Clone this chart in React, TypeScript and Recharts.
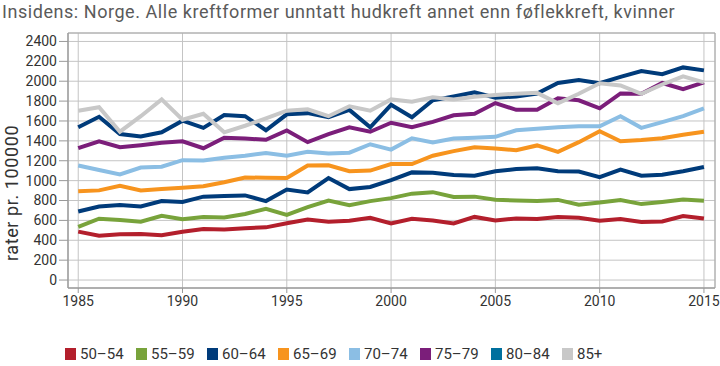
import React from 'react';
import { LineChart, Line, XAxis, YAxis, CartesianGrid, ReferenceArea } from 'recharts';

// Insidens, kvinner, rater pr. 100 000 etter aldersgruppe
const years = [
  1985, 1986, 1987, 1988, 1989, 1990, 1991, 1992, 1993, 1994, 1995, 1996, 1997, 1998, 1999, 2000,
  2001, 2002, 2003, 2004, 2005, 2006, 2007, 2008, 2009, 2010, 2011, 2012, 2013, 2014, 2015,
];

const age50_54 = [487, 446, 460, 464, 451, 485, 514, 509, 521, 530, 572, 608, 587, 596, 626, 569, 617, 599, 569, 635, 600, 620, 614, 635, 626, 596, 614, 584, 590, 644, 620];
const age55_59 = [536, 617, 605, 587, 647, 611, 635, 629, 665, 716, 655, 734, 800, 752, 794, 824, 869, 884, 836, 839, 808, 800, 794, 806, 758, 779, 806, 764, 785, 809, 797];
const age60_64 = [689, 740, 755, 740, 794, 785, 839, 845, 851, 794, 910, 881, 1026, 915, 936, 1005, 1083, 1080, 1056, 1050, 1095, 1116, 1125, 1095, 1092, 1035, 1110, 1050, 1059, 1095, 1137];
const age65_69 = [893, 902, 947, 902, 915, 929, 944, 983, 1032, 1028, 1026, 1152, 1155, 1095, 1101, 1167, 1167, 1251, 1297, 1336, 1323, 1306, 1354, 1290, 1387, 1498, 1396, 1408, 1426, 1462, 1492];
const age70_74 = [1152, 1107, 1062, 1131, 1140, 1206, 1203, 1230, 1251, 1278, 1250, 1290, 1272, 1281, 1366, 1312, 1426, 1384, 1423, 1432, 1441, 1507, 1522, 1537, 1546, 1546, 1648, 1531, 1588, 1648, 1727];
const age75_79 = [1326, 1396, 1336, 1357, 1381, 1396, 1326, 1432, 1423, 1411, 1504, 1387, 1468, 1537, 1492, 1582, 1537, 1591, 1657, 1673, 1780, 1712, 1712, 1829, 1808, 1727, 1877, 1874, 1982, 1919, 1989];
const age80_84 = [1537, 1642, 1468, 1444, 1486, 1603, 1531, 1660, 1648, 1507, 1667, 1679, 1637, 1712, 1537, 1763, 1637, 1808, 1847, 1889, 1835, 1847, 1877, 1982, 2012, 1980, 2043, 2102, 2070, 2139, 2109];
const age85plus = [1703, 1739, 1492, 1648, 1817, 1612, 1673, 1486, 1552, 1627, 1703, 1718, 1648, 1748, 1703, 1817, 1793, 1838, 1817, 1844, 1862, 1874, 1883, 1778, 1874, 1980, 1958, 1874, 1967, 2048, 1989];

const xTicks = [1985, 1990, 1995, 2000, 2005, 2010, 2015];
const yTicks = [0, 200, 400, 600, 800, 1000, 1200, 1400, 1600, 1800, 2000, 2200, 2400];

const series = [
  { key: 'a50', name: '50–54', values: age50_54, color: '#b31f2c', legend: '#b31f2c' },
  { key: 'a55', name: '55–59', values: age55_59, color: '#78a33b', legend: '#78a33b' },
  { key: 'a60', name: '60–64', values: age60_64, color: '#003b7a', legend: '#003b7a' },
  { key: 'a65', name: '65–69', values: age65_69, color: '#f7941e', legend: '#f7941e' },
  { key: 'a70', name: '70–74', values: age70_74, color: '#8bbee4', legend: '#8bbee4' },
  { key: 'a75', name: '75–79', values: age75_79, color: '#7b1e7a', legend: '#7b1e7a' },
  // linja er tegnet mørkeblå i originalen, men legenden er petrol
  { key: 'a80', name: '80–84', values: age80_84, color: '#003b7a', legend: '#00709e' },
  { key: 'a85', name: '85+', values: age85plus, color: '#c8c8c8', legend: '#c8c8c8' },
];

const chartData = years.map((year, i) => {
  const row: Record<string, number> = { year };
  series.forEach((s) => {
    row[s.key] = s.values[i];
  });
  return row;
});

const FONT = 'Roboto, "Noto Sans", sans-serif';

const App: React.FC = () => {
  return (
    <div style={{ position: 'absolute', left: 0, top: 0, width: 720, height: 366, background: '#fff', fontFamily: FONT }}>
      <div
        style={{
          position: 'absolute',
          left: 2,
          top: 1,
          fontSize: 18,
          letterSpacing: 0.55,
          color: '#5a5a5a',
          whiteSpace: 'nowrap',
        }}
      >
        Insidens: Norge. Alle kreftformer unntatt hudkreft annet enn føflekkreft, kvinner
      </div>

      <LineChart width={720} height={366} data={chartData} margin={{ top: 33, right: 5, bottom: 48, left: 0 }}>
        <CartesianGrid stroke="#c4c4c4" strokeWidth={1} />
        <ReferenceArea x1={1984.51} x2={2015.53} y1={-80} y2={2485} fill="none" stroke="#a8a8a8" ifOverflow="extendDomain" />
        <XAxis
          dataKey="year"
          type="number"
          domain={[1984.51, 2015.53]}
          ticks={xTicks}
          tick={{ fontSize: 14, fill: '#333', fontFamily: FONT }}
          tickSize={5}
          tickMargin={3}
          stroke="#999"
          allowDataOverflow
        />
        <YAxis
          type="number"
          domain={[-80, 2485]}
          ticks={yTicks}
          width={68}
          interval={0}
          tick={{ fontSize: 14, fill: '#333', fontFamily: FONT }}
          tickSize={9}
          tickMargin={2}
          stroke="#999"
          allowDataOverflow
          label={{
            content: () => (
              <text
                x={11}
                y={193}
                transform="rotate(-90 11 193)"
                textAnchor="middle"
                dominantBaseline="central"
                fontSize={18}
                letterSpacing={0.6}
                fill="#333"
                fontFamily={FONT}
              >
                rater pr. 100000
              </text>
            ),
          }}
        />
        {series.map((s) => (
          <Line
            key={s.key}
            dataKey={s.key}
            name={s.name}
            stroke={s.color}
            strokeWidth={4}
            dot={false}
            isAnimationActive={false}
          />
        ))}
      </LineChart>

      <div style={{ position: 'absolute', left: 65, top: 345, display: 'flex', fontSize: 15, color: '#333' }}>
        {series.map((s) => (
          <div key={s.key} style={{ display: 'flex', alignItems: 'center', width: 71 }}>
            <span style={{ display: 'inline-block', width: 11, height: 12, background: s.legend, marginRight: 4 }} />
            <span>{s.name}</span>
          </div>
        ))}
      </div>
    </div>
  );
};

export default App;
